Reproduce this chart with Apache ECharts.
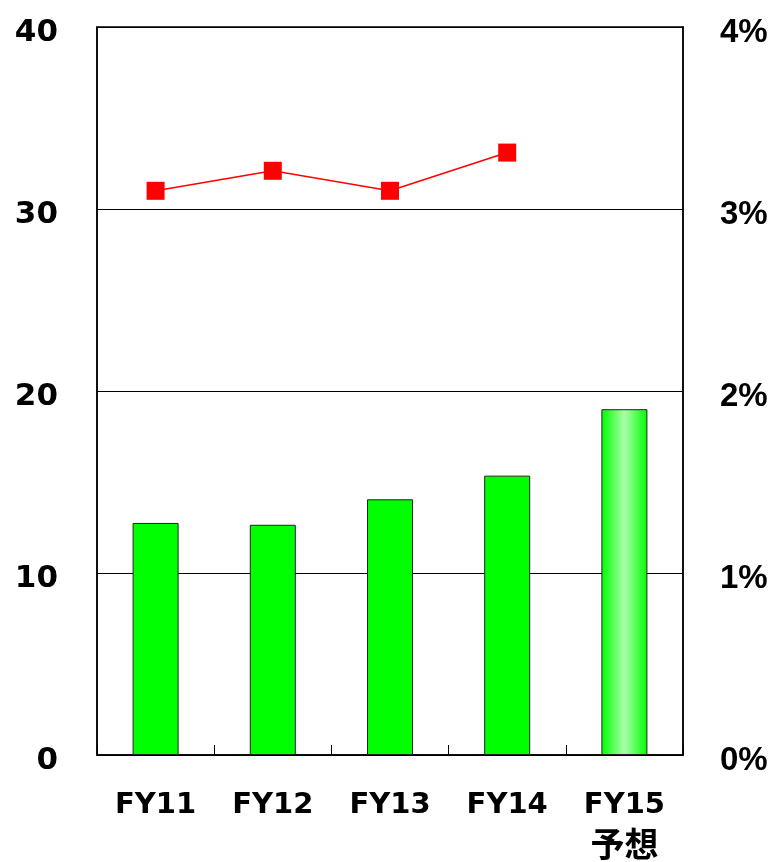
<!DOCTYPE html>
<html>
<head>
<meta charset="utf-8">
<script src="https://cdn.jsdelivr.net/npm/echarts@6/dist/echarts.min.js"></script>
<style>
  html, body { margin: 0; padding: 0; background: #fff; }
  #chart { width: 769px; height: 862px; }
</style>
</head>
<body>
<div id="chart"></div>
<script>
// 年度
const categories = ["FY11", "FY12", "FY13", "FY14", "FY15\n予想"];
// 棒グラフ（左軸）
const barValues = [12.75, 12.65, 14.05, 15.35, 19.0];
// 折れ線（右軸, %）
const lineValues = [3.10, 3.21, 3.10, 3.31, null];

const labelFont = "'DejaVu Sans', 'Noto Sans CJK JP', sans-serif";

const greenFill = "#00ff00";
// FY15 予想はグラデーション
const forecastFill = new echarts.graphic.LinearGradient(0, 0, 1, 0, [
  { offset: 0, color: "#00ff00" },
  { offset: 0.5, color: "#aaffaa" },
  { offset: 1, color: "#00ff00" },
]);

const myChart = echarts.init(document.getElementById("chart"));
const option = {
  animation: false,
  grid: {
    left: 97,
    right: 86,
    top: 27,
    bottom: 107,
    outerBoundsMode: "none",
    containLabel: false,
    show: true,
    borderColor: "#000",
    borderWidth: 1.5,
  },
  xAxis: {
    type: "category",
    data: categories,
    axisLine: { lineStyle: { color: "#000", width: 1.5 } },
    axisTick: {
      show: true,
      inside: true,
      length: 10,
      lineStyle: { color: "#000", width: 1 },
    },
    axisLabel: {
      interval: 0,
      hideOverlap: false,
      color: "#000",
      fontSize: 29,
      fontWeight: "bold",
      fontFamily: labelFont,
      margin: 31,
      lineHeight: 38,
      formatter: (v) => {
        const parts = v.split("\n");
        return parts.length > 1 ? parts[0] + "\n{jp|" + parts[1] + "}" : v;
      },
      rich: {
        jp: {
          fontSize: 34,
          fontWeight: "bold",
          fontFamily: "'Noto Sans CJK JP', sans-serif",
          lineHeight: 40,
        },
      },
    },
  },
  yAxis: [
    {
      type: "value",
      min: 0,
      max: 40,
      interval: 10,
      axisLine: { show: true, lineStyle: { color: "#000", width: 1.5 } },
      axisTick: { show: false },
      splitLine: { lineStyle: { color: "#000", width: 1 } },
      axisLabel: {
        color: "#000",
        margin: 39,
        formatter: "{v|{value}}",
        rich: {
          v: {
            fontSize: 31,
            fontWeight: "bold",
            fontFamily: labelFont,
            padding: [12, 0, 0, 0],
          },
        },
      },
    },
    {
      type: "value",
      min: 0,
      max: 4,
      interval: 1,
      axisLine: { show: true, lineStyle: { color: "#000", width: 1.5 } },
      axisTick: { show: false },
      splitLine: { show: false },
      axisLabel: {
        color: "#000",
        margin: 37,
        formatter: "{v|{value}%}",
        rich: {
          v: {
            fontSize: 33,
            fontWeight: "bold",
            fontFamily: "'Liberation Sans', sans-serif",
            padding: [12, 0, 0, 0],
          },
        },
      },
    },
  ],
  series: [
    {
      name: "bar",
      type: "bar",
      yAxisIndex: 0,
      barWidth: 46,
      data: barValues.map((v, i) => ({
        value: v,
        itemStyle: {
          color: i === barValues.length - 1 ? forecastFill : greenFill,
          borderColor: "#222",
          borderWidth: 1,
        },
      })),
    },
    {
      name: "line",
      type: "line",
      yAxisIndex: 1,
      data: lineValues,
      symbol: "rect",
      symbolSize: 18,
      lineStyle: { color: "#ff0000", width: 1.5 },
      itemStyle: { color: "#ff0000" },
    },
  ],
};
myChart.setOption(option, true);
</script>
</body>
</html>
